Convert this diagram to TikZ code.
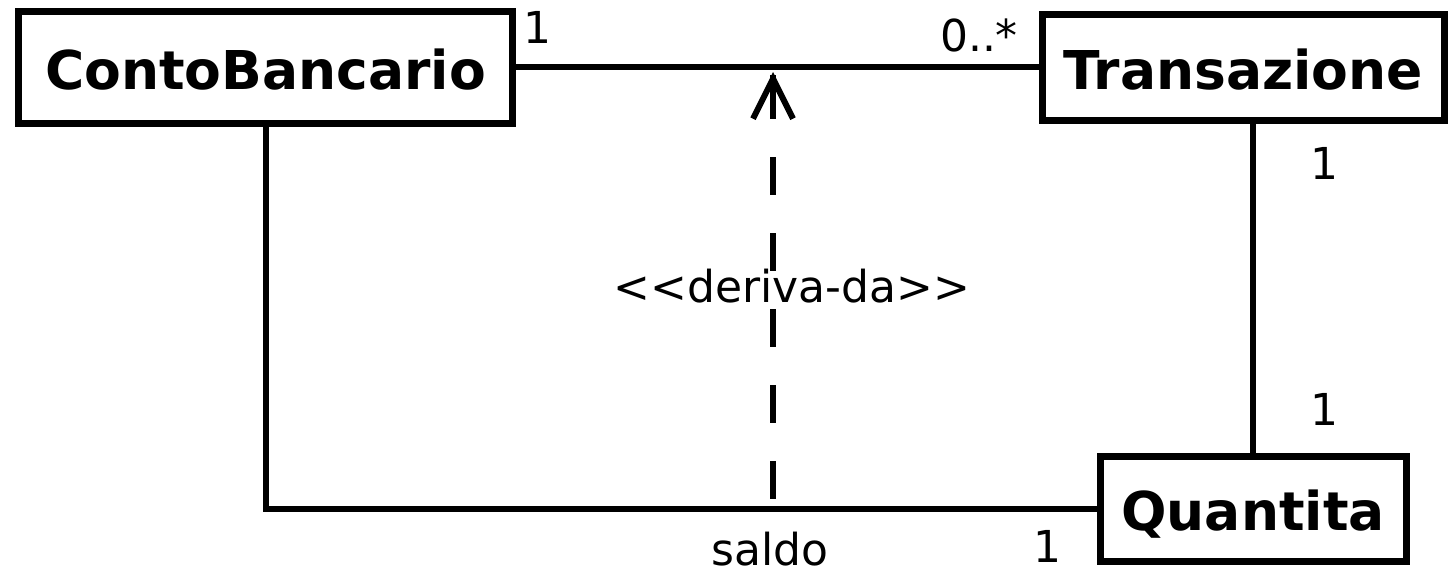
\documentclass[tikz,border=0pt]{standalone}
\usepackage{fontspec}
\setmainfont{DejaVu Sans}
\usetikzlibrary{arrows.meta}
\begin{document}
\begin{tikzpicture}[x=1pt,y=-1pt,
  classbox/.style={draw, line width=7pt, inner sep=0pt,
    text height=44pt, text depth=0pt,
    font=\fontsize{53.5}{60}\selectfont\bfseries},
  assoc/.style={line width=6pt},
  mult/.style={inner sep=0pt, font=\fontsize{44}{50}\selectfont},
  derivedash/.style={line width=6pt, dash pattern=on 38pt off 38pt, dash phase=66pt},
  derivetip/.style={line width=6pt, -{Straight Barb[length=40pt,width=40pt]}}]
  \useasboundingbox (0,0) rectangle (1449,576);

  % classes
  \node[classbox, minimum width=494pt, minimum height=112pt] (cb) at (265.5,67) {ContoBancario};
  \node[classbox, minimum width=402pt, minimum height=106pt] (tr) at (1243,67) {Transazione};
  \node[classbox, minimum width=306pt, minimum height=105pt] (q) at (1253,508.5) {Quantita};

  % associations
  \draw[assoc] (cb.east) -- (tr.west);
  \draw[assoc] (q.north) -- (q.north |- tr.south);
  \draw[assoc] (cb.south) |- (q.west);

  % derivation dependency: dashed line with an open arrow head
  \coordinate (dbase) at (773,508.5);
  \coordinate (dstub) at (773,75);
  \coordinate (dtop) at (773,72);
  \draw[derivedash] (dbase) -- (dtop);
  \draw[derivetip] (dstub) -- (dtop);

  % multiplicities and labels
  \node[mult] (m1) at (537,27) {1};
  \node[mult] (m2) at (979,35) {0..*};
  \node[mult] (m3) at (1324,163) {1};
  \node[mult] (m4) at (1324,409) {1};
  \node[mult] (m5) at (1047,546) {1};
  \node[mult, anchor=base] (saldo) at (770,565) {saldo};
  \node[mult, anchor=base] (stereo) at (792,302) {<\kern0pt<deriva-da>\kern0pt>};
\end{tikzpicture}
\end{document}
